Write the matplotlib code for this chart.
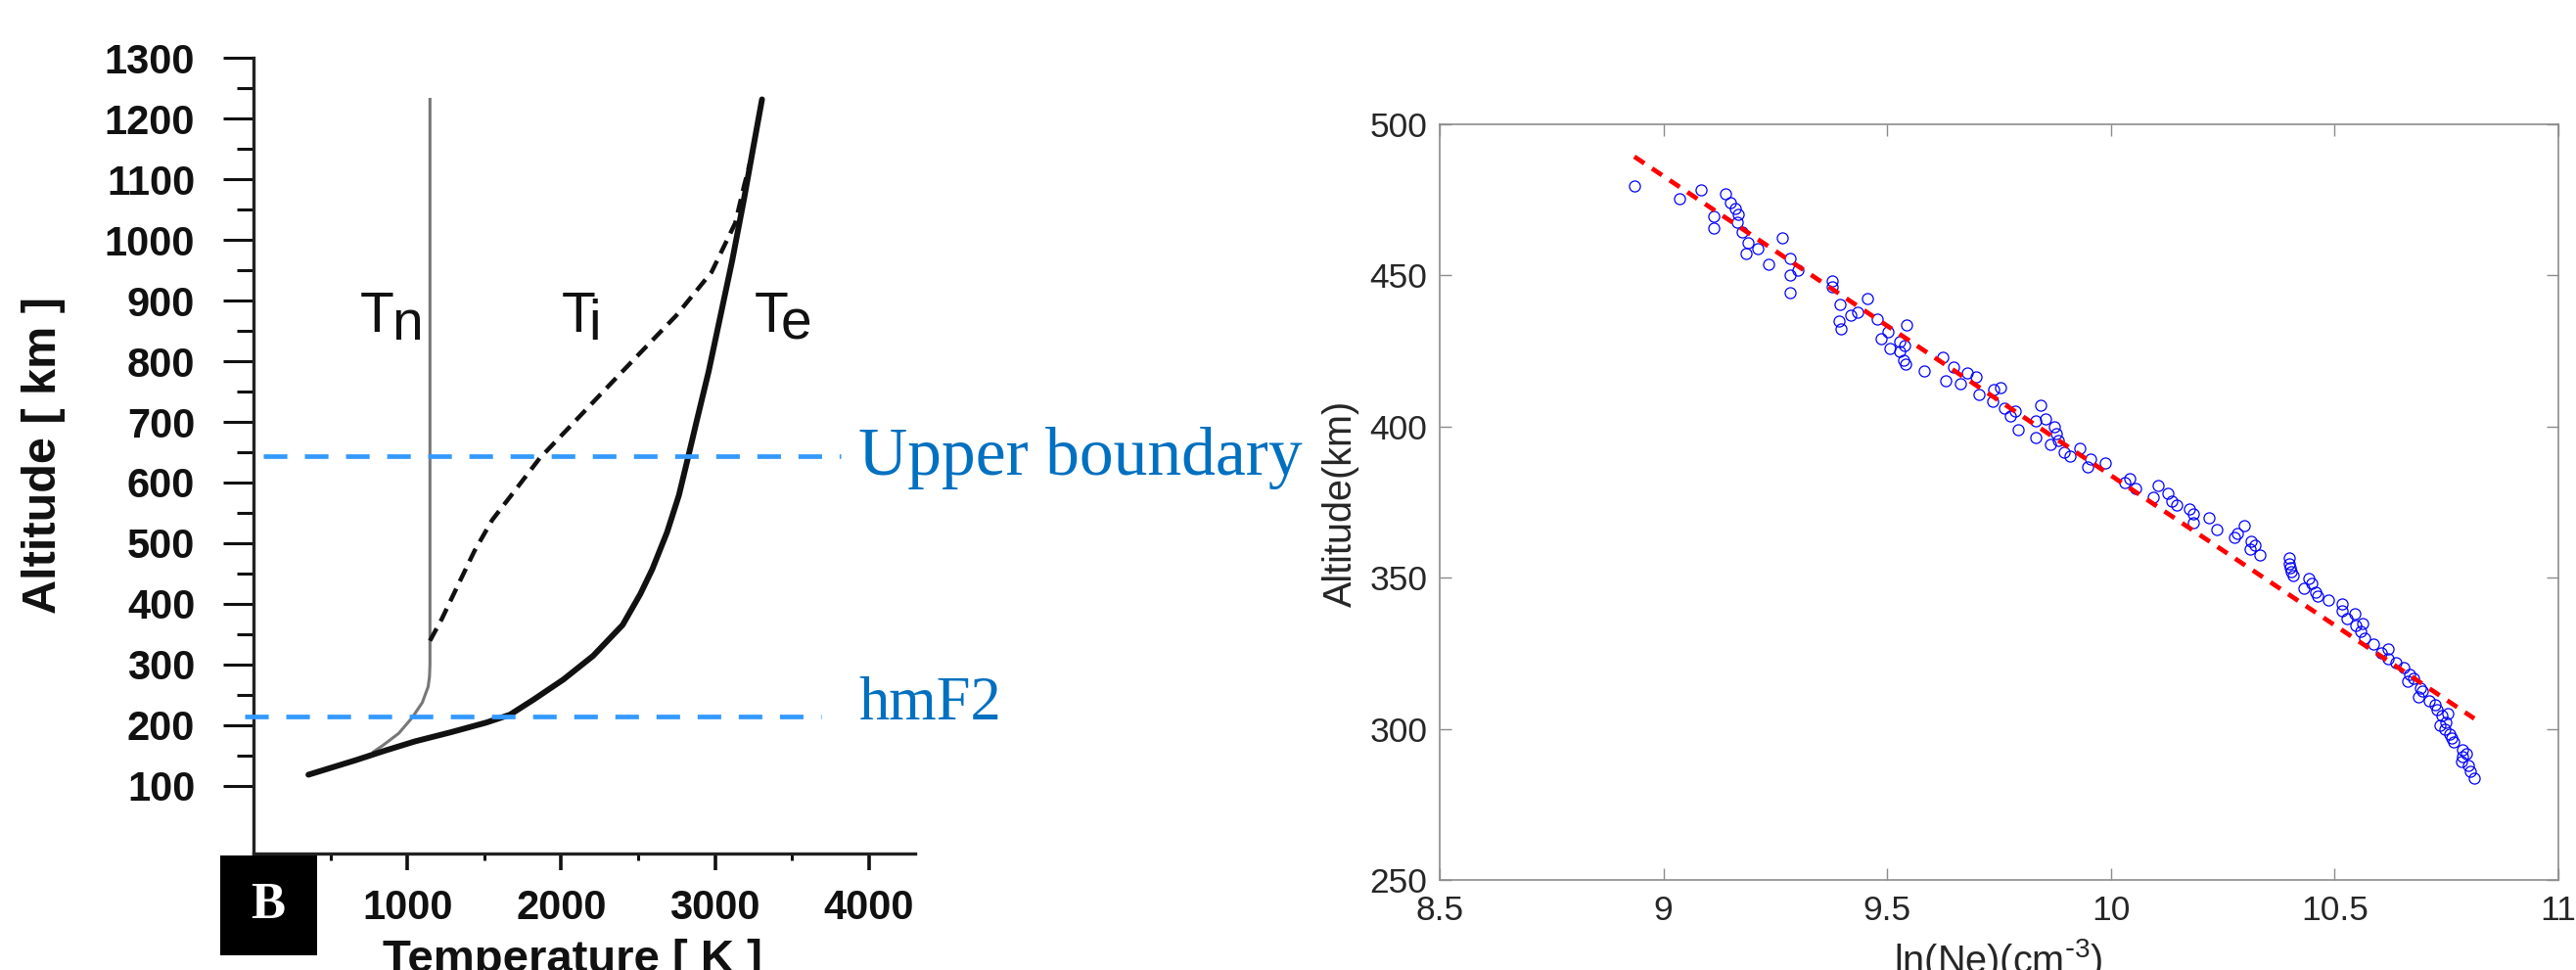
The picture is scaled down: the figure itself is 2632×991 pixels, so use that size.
import matplotlib
matplotlib.use("Agg")
import matplotlib.pyplot as plt
from matplotlib.patches import Rectangle

# ---- left panel: temperature profiles (T in K, altitude in km) ----
te_temp = [357, 511, 665, 858, 1050, 1282, 1513, 1667, 1821, 2014, 2207, 2399, 2514,
           2592, 2688, 2765, 2823, 2881, 2958, 3035, 3112, 3189, 3247, 3305]
te_alt = [118, 130, 142, 158, 173, 188, 204, 217, 242, 275, 314, 365, 416,
          457, 518, 579, 640, 702, 783, 875, 967, 1069, 1151, 1232]

ti_temp = [1147, 1224, 1320, 1436, 1551, 1706, 1860, 2052, 2284, 2514, 2746, 2977, 3131, 3189, 3230]
ti_alt = [339, 375, 426, 487, 538, 589, 640, 691, 753, 814, 875, 947, 1028, 1090, 1130]

tn_temp = [1147, 1147, 1144, 1135, 1097, 1031, 943, 839, 781]
tn_alt = [1232, 300, 280, 263, 237, 212, 186, 166, 156]

upper_alt = 643
hmf2_alt = 214

# ---- right panel: ln(Ne) vs altitude ----
ln_ne = [8.935, 9.035, 9.085, 9.112, 9.112, 9.139, 9.149, 9.161, 9.168, 9.166, 9.176, 9.190,
         9.184, 9.211, 9.234, 9.265, 9.282, 9.284, 9.282, 9.301, 9.378, 9.376, 9.394, 9.392,
         9.397, 9.419, 9.434, 9.455, 9.478, 9.486, 9.502, 9.507, 9.528, 9.529, 9.537, 9.541,
         9.544, 9.538, 9.582, 9.625, 9.630, 9.648, 9.663, 9.679, 9.698, 9.706, 9.735, 9.738,
         9.754, 9.762, 9.775, 9.787, 9.792, 9.833, 9.843, 9.833, 9.854, 9.865, 9.873, 9.877,
         9.883, 9.896, 9.908, 9.931, 9.948, 9.954, 9.987, 10.031, 10.041, 10.056, 10.095, 10.105,
         10.128, 10.137, 10.147, 10.176, 10.185, 10.185, 10.220, 10.237, 10.276, 10.282, 10.297,
         10.311, 10.314, 10.322, 10.332, 10.399, 10.399, 10.401, 10.403, 10.407, 10.432, 10.442,
         10.448, 10.457, 10.461, 10.486, 10.517, 10.517, 10.527, 10.544, 10.548, 10.558, 10.563,
         10.567, 10.587, 10.605, 10.619, 10.619, 10.638, 10.655, 10.667, 10.663, 10.676, 10.692,
         10.688, 10.697, 10.711, 10.725, 10.728, 10.736, 10.740, 10.748, 10.752, 10.746, 10.757,
         10.761, 10.765, 10.786, 10.794, 10.784, 10.786, 10.798, 10.804, 10.811]
alt_km = [479.7, 475.4, 478.2, 469.4, 465.8, 476.9, 474.1, 472.2, 470.3, 467.7, 464.3, 460.9,
          457.3, 459.0, 453.6, 462.4, 455.6, 450.2, 444.4, 451.9, 448.1, 446.2, 440.4, 434.8,
          432.3, 437.0, 437.8, 442.5, 435.5, 429.1, 431.4, 425.8, 428.2, 424.8, 422.0, 420.5,
          433.5, 426.7, 418.4, 422.9, 415.2, 419.7, 414.1, 417.9, 416.4, 410.5, 408.3, 412.2,
          413.0, 406.1, 403.6, 405.1, 398.9, 396.4, 407.1, 401.9, 402.6, 394.0, 400.0, 397.6,
          395.3, 391.5, 390.2, 392.9, 386.5, 389.1, 388.0, 381.4, 382.9, 379.5, 376.5, 380.5,
          378.0, 375.2, 373.9, 372.6, 371.1, 368.2, 369.9, 366.0, 363.3, 364.7, 367.3,
          359.4, 362.2, 360.9, 357.5, 356.6, 354.7, 353.4, 351.9, 350.6, 346.6, 349.6,
          348.1, 345.3, 343.8, 342.5, 341.2, 338.9, 336.5, 338.2, 334.2, 332.3, 335.0,
          329.9, 328.0, 325.2, 326.5, 323.3, 322.0, 320.3, 318.0, 315.8, 316.7, 313.4,
          310.7, 312.6, 309.2, 308.1, 306.2, 301.3, 304.5, 302.2, 305.0, 299.8, 298.3,
          297.0, 295.7, 293.2, 291.7, 289.3, 290.8, 288.0, 286.1, 283.6]

fit_x = [8.935, 10.812]
fit_y = [489.3, 303.4]

W, H = 2632, 991
fig = plt.figure(figsize=(W / 100, H / 100), dpi=100)


def box(x0, y0, x1, y1):
    # pixel box (top-left origin) -> figure fraction rect
    return [x0 / W, 1 - y1 / H, (x1 - x0) / W, (y1 - y0) / H]


# ================= left panel =================
ax1 = fig.add_axes(box(259, 59.4, 935, 872))
ax1.plot(tn_temp, tn_alt, color="#777777", lw=2.2, zorder=2)
ax1.plot(ti_temp, ti_alt, color="#111111", lw=3.2, dashes=(3.2, 1.9), zorder=2)
ax1.plot(te_temp, te_alt, color="#111111", lw=4.3, solid_capstyle="round", zorder=2)

ax1.set_xlim(0, 4300)
ax1.set_ylim(-12, 1300)
ax1.spines["top"].set_visible(False)
ax1.spines["right"].set_visible(False)
for s in ("left", "bottom"):
    ax1.spines[s].set_linewidth(2.4)
    ax1.spines[s].set_color("#222222")

ax1.set_yticks(range(100, 1301, 100))
ax1.set_yticks(range(150, 1300, 100), minor=True)
ax1.set_xticks([1000, 2000, 3000, 4000])
ax1.set_xticks([500, 1500, 2500, 3500], minor=True)
ax1.tick_params(axis="y", which="major", direction="out", length=22, width=2.2,
                pad=21, labelsize=30, colors="#111111")
ax1.tick_params(axis="y", which="minor", direction="out", length=12, width=2.2,
                colors="#111111")
ax1.tick_params(axis="x", which="major", direction="out", length=12, width=2.6,
                pad=14, labelsize=30, colors="#111111")
ax1.tick_params(axis="x", which="minor", direction="out", length=5, width=2.2,
                colors="#111111")
for lab in ax1.get_xticklabels() + ax1.get_yticklabels():
    lab.set_fontfamily("Liberation Sans")
    lab.set_fontweight("bold")

# curve labels  T_n, T_i, T_e
lab_font = dict(family="Liberation Sans", size=41, color="#111111")
for xt, xs, sub in [(915, 898, "n"), (2225, 2180, "i"), (3477, 3425, "e")]:
    ax1.text(xt, 848, "T", ha="right", va="baseline", **lab_font)
    ax1.text(xs, 836, sub, ha="left", va="baseline", **lab_font)

# B box under the axis corner
ax1.add_patch(Rectangle((-0.0503, -0.128), 0.1464, 0.1255, transform=ax1.transAxes,
                        facecolor="black", edgecolor="none", clip_on=False))
ax1.text(0.0222, -0.065, "B", transform=ax1.transAxes, ha="center", va="center",
         color="white", family="Liberation Serif", weight="bold", size=38)

# boundary lines
ax1.plot([65, 3814], [upper_alt, upper_alt], color="#3399FF", lw=3.4,
         dashes=(5.1, 3.8), clip_on=False, zorder=4)
ax1.plot([-57, 3689], [hmf2_alt, hmf2_alt], color="#3399FF", lw=3.4,
         dashes=(5.1, 3.8), clip_on=False, zorder=4)

fig.text(877 / W, 1 - 485 / H, "Upper boundary", ha="left", va="baseline",
         family="Liberation Serif", size=50, color="#0070C0")
fig.text(877 / W, 1 - 735 / H, "hmF2", ha="left", va="baseline",
         family="Liberation Serif", size=45, color="#0070C0")

fig.text(45 / W, 1 - 465 / H, "Altitude [ km ]", rotation=90, ha="center", va="center",
         family="Liberation Sans", weight="bold", size=35, color="#111111")
fig.text(585 / W, 1 - 993 / H, "Temperature [ K ]", ha="center", va="baseline",
         family="Liberation Sans", weight="bold", size=34, color="#111111")

# ================= right panel =================
plt.rcParams["mathtext.default"] = "regular"
ax2 = fig.add_axes(box(1471, 127, 2614, 899))
ax2.plot(ln_ne, alt_km, "o", mfc="none", mec="blue", ms=8, mew=0.9, zorder=2)
ax2.plot(fit_x, fit_y, color="red", lw=3.4, dashes=(2.6, 2.0), zorder=3)

ax2.set_xlim(8.5, 11)
ax2.set_ylim(250, 500)
ax2.set_xticks([8.5, 9, 9.5, 10, 10.5, 11])
ax2.set_xticklabels(["8.5", "9", "9.5", "10", "10.5", "11"])
ax2.set_yticks([250, 300, 350, 400, 450, 500])
for s in ax2.spines.values():
    s.set_color("#8c8c8c")
    s.set_linewidth(1.2)
ax2.tick_params(direction="in", length=8.5, width=1.0, color="#8c8c8c",
                labelcolor="#262626", labelsize=25.5, top=True, right=True)
ax2.tick_params(axis="x", pad=11)
ax2.tick_params(axis="y", pad=9)
for lab in ax2.get_xticklabels() + ax2.get_yticklabels():
    lab.set_fontfamily("Liberation Sans")

fig.text(1370 / W, 1 - 514 / H, "Altitude(km)", rotation=90, ha="center", va="center",
         family="Liberation Sans", size=28.5, color="#262626")
fig.text(2042 / W, 1 - 994 / H, r"ln(Ne)(cm$^{\text{-}3}$)", ha="center", va="baseline",
         family="Liberation Sans", size=28.5, color="#262626")

fig.savefig("out.png", dpi=100)
